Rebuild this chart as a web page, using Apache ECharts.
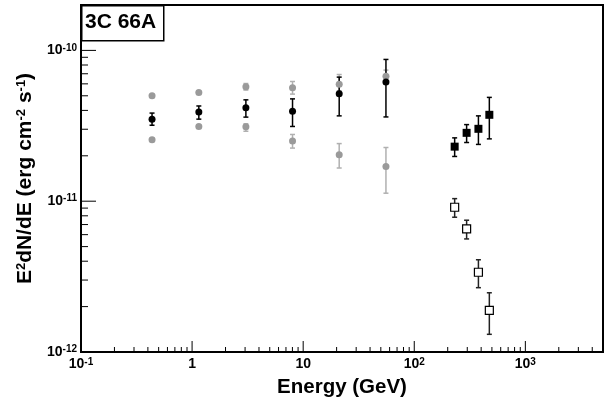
<!DOCTYPE html>
<html>
<head>
<meta charset="utf-8">
<script src="https://cdn.jsdelivr.net/npm/echarts@6/dist/echarts.min.js"></script>
<style>
  html, body { margin: 0; padding: 0; background: #fff; }
  #chart { width: 604px; height: 407px; }
</style>
</head>
<body>
<div id="chart"></div>
<script>
// energies (GeV)
const energyCircles = [0.436, 1.15, 3.05, 8.02, 21.1, 55.6];
const energySquares = [231, 296, 378, 474];

// black circles
const blackFlux = [3.50e-11, 3.90e-11, 4.16e-11, 3.95e-11, 5.15e-11, 6.17e-11];
const blackLow  = [3.19e-11, 3.50e-11, 3.61e-11, 3.13e-11, 3.68e-11, 3.62e-11];
const blackHigh = [3.84e-11, 4.28e-11, 4.70e-11, 4.77e-11, 6.65e-11, 8.71e-11];

// grey circles, upper band
const greyUpFlux = [5.00e-11, 5.26e-11, 5.73e-11, 5.65e-11, 5.97e-11, 6.75e-11];
const greyUpLow  = [4.90e-11, 5.15e-11, 5.46e-11, 5.13e-11, 5.40e-11, 6.10e-11];
const greyUpHigh = [5.10e-11, 5.37e-11, 6.03e-11, 6.22e-11, 6.92e-11, 7.40e-11];

// grey circles, lower band
const greyLoFlux = [2.56e-11, 3.13e-11, 3.12e-11, 2.51e-11, 2.03e-11, 1.70e-11];
const greyLoLow  = [2.50e-11, 3.05e-11, 2.91e-11, 2.25e-11, 1.66e-11, 1.13e-11];
const greyLoHigh = [2.62e-11, 3.20e-11, 3.26e-11, 2.77e-11, 2.41e-11, 2.27e-11];

// filled squares
const filledFlux = [2.30e-11, 2.84e-11, 3.02e-11, 3.74e-11];
const filledLow  = [1.98e-11, 2.45e-11, 2.38e-11, 2.59e-11];
const filledHigh = [2.63e-11, 3.22e-11, 3.68e-11, 4.88e-11];

// open squares
const openFlux = [9.12e-12, 6.55e-12, 3.38e-12, 1.89e-12];
const openLow  = [7.83e-12, 5.62e-12, 2.67e-12, 1.31e-12];
const openHigh = [1.04e-11, 7.48e-12, 4.09e-12, 2.47e-12];

// axis ranges and ticks
const xMin = 0.1, xMax = 5000;
const yMin = 1e-12, yMax = 2e-10;
const xMajorTicks = [0.1, 1, 10, 100, 1000];
const xMinorTicks = [0.2, 0.3, 0.4, 0.5, 0.6, 0.7, 0.8, 0.9,
  2, 3, 4, 5, 6, 7, 8, 9, 20, 30, 40, 50, 60, 70, 80, 90,
  200, 300, 400, 500, 600, 700, 800, 900, 2000, 3000, 4000, 5000];
const yMajorTicks = [1e-12, 1e-11, 1e-10];
const yMinorTicks = [2e-12, 3e-12, 4e-12, 5e-12, 6e-12, 7e-12, 8e-12, 9e-12,
  2e-11, 3e-11, 4e-11, 5e-11, 6e-11, 7e-11, 8e-11, 9e-11];

const FONT = '"Liberation Sans", Arial, Helvetica, sans-serif';

const zip = (xs, ys) => xs.map((x, i) => [x, ys[i]]);
const zip3 = (xs, lo, hi) => xs.map((x, i) => [x, lo[i], hi[i]]);

function expLabel(v, xAxis) {
  const e = Math.log10(v);
  const r = Math.round(e);
  if (Math.abs(e - r) > 1e-6) return '';
  if (xAxis && r === 0) return '{b|1}';
  if (xAxis && r === 1) return '{b|10}';
  return '{b|10}{s|' + r + '}';
}

const labelRich = {
  b: { fontSize: 14, fontWeight: 'bold', fontFamily: FONT, color: '#000', lineHeight: 15 },
  s: { fontSize: 10, fontWeight: 'bold', fontFamily: FONT, color: '#000', verticalAlign: 'top', lineHeight: 10 }
};

function errorBars(data, color, width) {
  return {
    type: 'custom',
    z: 2,
    data: data,
    renderItem: function (params, api) {
      const top = api.coord([api.value(0), api.value(2)]);
      const bot = api.coord([api.value(0), api.value(1)]);
      const st = { stroke: color, lineWidth: width };
      return {
        type: 'group',
        children: [
          { type: 'line', shape: { x1: top[0], y1: top[1], x2: bot[0], y2: bot[1] }, style: st },
          { type: 'line', shape: { x1: top[0] - 2.5, y1: top[1], x2: top[0] + 2.5, y2: top[1] }, style: st },
          { type: 'line', shape: { x1: bot[0] - 2.5, y1: bot[1], x2: bot[0] + 2.5, y2: bot[1] }, style: st }
        ]
      };
    }
  };
}

function tickSeries(values, horizontal, len) {
  return {
    type: 'custom',
    z: 1,
    silent: true,
    data: values.map(v => horizontal ? [v, yMin] : [xMin, v]),
    renderItem: function (params, api) {
      const p = api.coord([api.value(0), api.value(1)]);
      const shape = horizontal
        ? { x1: p[0], y1: p[1], x2: p[0], y2: p[1] - len }
        : { x1: p[0], y1: p[1], x2: p[0] + len, y2: p[1] };
      return { type: 'line', shape: shape, style: { stroke: '#000', lineWidth: 1 } };
    }
  };
}

const chart = echarts.init(document.getElementById('chart'), null, { renderer: 'canvas' });

chart.setOption({
  animation: false,
  backgroundColor: '#fff',
  grid: {
    left: 81, right: 1, top: 5, bottom: 55,
    show: true, borderColor: '#000', borderWidth: 2
  },
  xAxis: {
    type: 'log', logBase: 10, min: xMin, max: xMax,
    name: 'Energy (GeV)', nameLocation: 'middle', nameGap: 23,
    nameTextStyle: { fontSize: 20.5, fontWeight: 'bold', fontFamily: FONT, color: '#000' },
    axisLine: { show: true, lineStyle: { color: '#000', width: 2 } },
    axisTick: { show: false },
    splitLine: { show: false },
    axisLabel: {
      margin: 5, formatter: v => expLabel(v, true), rich: labelRich,
      showMaxLabel: false
    }
  },
  yAxis: {
    type: 'log', logBase: 10, min: yMin, max: yMax,
    name: 'E{s|2}dN/dE (erg cm{s|-2} s{s|-1})', nameLocation: 'middle', nameGap: 42, nameRotate: 90,
    nameTextStyle: {
      fontSize: 21, fontWeight: 'bold', fontFamily: FONT, color: '#000',
      rich: {
        s: { fontSize: 13, fontWeight: 'bold', fontFamily: FONT, color: '#000', verticalAlign: 'top', lineHeight: 12 }
      }
    },
    axisLine: { show: true, lineStyle: { color: '#000', width: 2 } },
    axisTick: { show: false },
    splitLine: { show: false },
    axisLabel: {
      margin: 4, formatter: v => expLabel(v, false), rich: labelRich,
      showMaxLabel: false
    }
  },
  graphic: [
    {
      type: 'rect', left: 81, top: 5, z: 100,
      shape: { width: 82, height: 35 },
      style: { fill: '#fff', stroke: '#000', lineWidth: 1.5 }
    },
    {
      type: 'text', left: 85, top: 12, z: 101,
      style: { text: '3C 66A', font: 'bold 21px ' + FONT, fill: '#000' }
    }
  ],
  series: [
    tickSeries(xMajorTicks, true, 11),
    tickSeries(xMinorTicks, true, 5),
    tickSeries(yMajorTicks, false, 15),
    tickSeries(yMinorTicks, false, 7),

    errorBars(zip3(energyCircles, greyUpLow, greyUpHigh), '#b0b0b0', 1.5),
    errorBars(zip3(energyCircles, greyLoLow, greyLoHigh), '#b0b0b0', 1.5),
    {
      type: 'scatter', z: 3, symbol: 'circle', symbolSize: 7,
      itemStyle: { color: '#9a9a9a', opacity: 1 },
      data: zip(energyCircles, greyUpFlux)
    },
    {
      type: 'scatter', z: 3, symbol: 'circle', symbolSize: 7,
      itemStyle: { color: '#9a9a9a', opacity: 1 },
      data: zip(energyCircles, greyLoFlux)
    },

    errorBars(zip3(energyCircles, blackLow, blackHigh), '#000', 1.5),
    {
      type: 'scatter', z: 4, symbol: 'circle', symbolSize: 7,
      itemStyle: { color: '#000', opacity: 1 },
      data: zip(energyCircles, blackFlux)
    },

    errorBars(zip3(energySquares, filledLow, filledHigh), '#000', 1.5),
    {
      type: 'scatter', z: 4, symbol: 'rect', symbolSize: 8,
      itemStyle: { color: '#000', opacity: 1 },
      data: zip(energySquares, filledFlux)
    },

    errorBars(zip3(energySquares, openLow, openHigh), '#222', 1.5),
    {
      type: 'scatter', z: 4, symbol: 'rect', symbolSize: 8,
      itemStyle: { color: '#fff', borderColor: '#000', borderWidth: 1.2, opacity: 1 },
      data: zip(energySquares, openFlux)
    }
  ]
});
</script>
</body>
</html>
